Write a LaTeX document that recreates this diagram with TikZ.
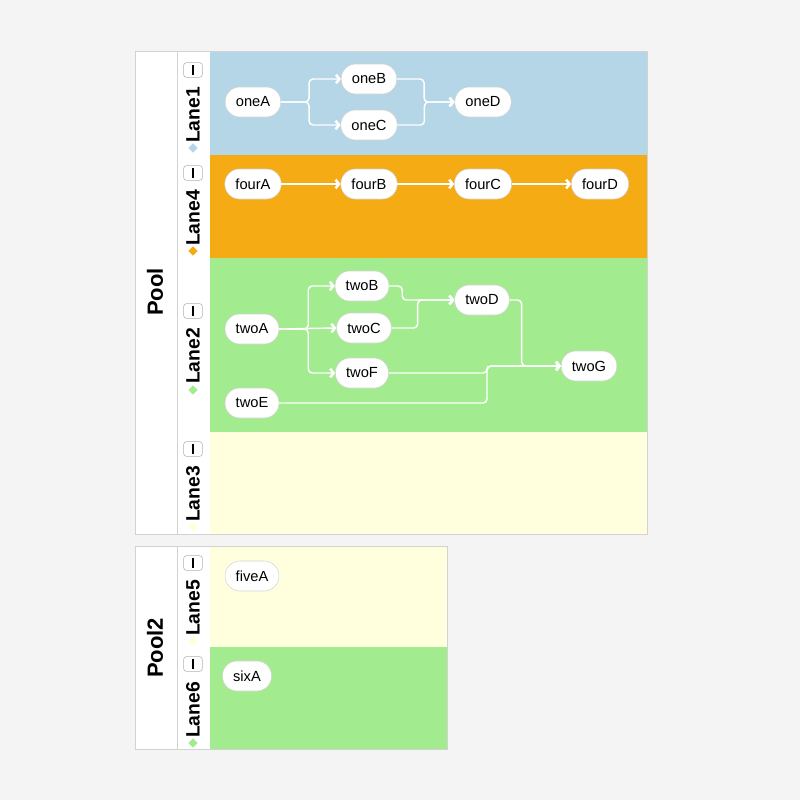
\documentclass[tikz,border=0pt]{standalone}
\usepackage{fontspec}
\setmainfont{Liberation Sans}
\usetikzlibrary{arrows.meta,positioning,shapes.geometric}
\definecolor{bg}{HTML}{F4F4F4}
\definecolor{rule}{HTML}{D2D2D2}
\definecolor{laneblue}{HTML}{B4D6E6}
\definecolor{laneorange}{HTML}{F5AB13}
\definecolor{lanegreen}{HTML}{A3EB8F}
\definecolor{laneyellow}{HTML}{FFFFDE}

\begin{document}
\begin{tikzpicture}[x=0.75pt,y=-0.75pt,
    task/.style={draw=rule,fill=white,rounded corners=11pt,minimum height=22.5pt,
                 inner xsep=8pt,font=\fontsize{11}{13}\selectfont},
    flow/.style={draw=white,line width=1.1pt,rounded corners=3pt,
                 -{Straight Barb[length=2.5pt,width=6.5pt,line width=1.9pt]}},
    toggle/.style={draw=gray!60,fill=white,rounded corners=2pt,
                   minimum width=14pt,minimum height=11pt,inner sep=0pt},
    lanelabel/.style={rotate=90,font=\fontsize{14.5}{16}\selectfont\bfseries},
    poollabel/.style={rotate=90,font=\fontsize{16.5}{18}\selectfont\bfseries},
    lanedot/.style={diamond,minimum size=7pt,inner sep=0pt}]
    \fill[bg] (0,0) rectangle (800,800);

    % first pool
    \fill[white] (135,51) rectangle (210,534);
    \fill[laneblue] (210,51) rectangle (647,155);
    \fill[laneorange] (210,155) rectangle (647,258);
    \fill[lanegreen] (210,258) rectangle (647,432);
    \fill[laneyellow] (210,432) rectangle (647,534);
    \draw[rule] (135,51) rectangle (647,534) (177,51) -- (177,534);
    \node[poollabel] (pool) at (155,292) {Pool};

    \node[toggle] (t1) at (193,70) {};
    \draw[line width=1.2pt] ([yshift=-3.5pt]t1.center) -- ([yshift=3.5pt]t1.center);
    \node[lanelabel] (l1) at (193,115) {Lane1};
    \node[lanedot,fill=laneblue] (d1) at (193,148) {};

    \node[toggle] (t4) at (193,173) {};
    \draw[line width=1.2pt] ([yshift=-3.5pt]t4.center) -- ([yshift=3.5pt]t4.center);
    \node[lanelabel] (l4) at (193,218) {Lane4};
    \node[lanedot,fill=laneorange] (d4) at (193,251) {};

    \node[toggle] (t2) at (193,311) {};
    \draw[line width=1.2pt] ([yshift=-3.5pt]t2.center) -- ([yshift=3.5pt]t2.center);
    \node[lanelabel] (l2) at (193,356) {Lane2};
    \node[lanedot,fill=lanegreen] (d2) at (193,390) {};

    \node[toggle] (t3) at (193,449) {};
    \draw[line width=1.2pt] ([yshift=-3.5pt]t3.center) -- ([yshift=3.5pt]t3.center);
    \node[lanelabel] (l3) at (193,494) {Lane3};
    \node[lanedot,fill=laneyellow] (d3) at (193,527) {};

    % lane 1
    \node[task] (oneA) at (253,102) {oneA};
    \node[task] (oneB) at (369,79) {oneB};
    \node[task] (oneC) at (369,125) {oneC};
    \node[task] (oneD) at (483,102) {oneD};
    \draw[flow] (oneA.east) -- ++(28,0) |- (oneB);
    \draw[flow] (oneA.east) -- ++(28,0) |- (oneC);
    \draw[flow] (oneB.east) -- ++(27,0) |- (oneD);
    \draw[flow] (oneC.east) -- ++(27,0) |- (oneD);

    % lane 4
    \node[task] (fourA) at (253,184) {fourA};
    \node[task] (fourB) at (369,184) {fourB};
    \node[task] (fourC) at (483,184) {fourC};
    \node[task] (fourD) at (600,184) {fourD};
    \draw[flow] (fourA)--(fourB);
    \draw[flow] (fourB)--(fourC);
    \draw[flow] (fourC)--(fourD);

    % lane 2
    \node[task] (twoA) at (252,329) {twoA};
    \node[task] (twoB) at (362,286) {twoB};
    \node[task] (twoC) at (364,328) {twoC};
    \node[task] (twoF) at (362,373) {twoF};
    \node[task] (twoD) at (482,300) {twoD};
    \node[task] (twoE) at (252,403) {twoE};
    \node[task] (twoG) at (589,366) {twoG};
    \coordinate (join) at (487,366);
    \draw[flow] (twoA.east) -- ++(29,0) |- (twoB);
    \draw[flow] (twoA.east) -- (twoC.west);
    \draw[flow] (twoA.east) -- ++(29,0) |- (twoF);
    \draw[flow] (twoB.east) -- ++(13,0) |- (twoD);
    \draw[flow] (twoC.east) -- ++(26,0) |- (twoD);
    \draw[flow] (twoD.east) -- ++(12,0) |- (twoG);
    \draw[flow] (twoF.east) -| (join) -- (twoG);
    \draw[flow] (twoE.east) -| (join) -- (twoG);

    % second pool
    \fill[white] (135,546) rectangle (210,749);
    \fill[laneyellow] (210,546) rectangle (447,647);
    \fill[lanegreen] (210,647) rectangle (447,749);
    \draw[rule] (135,546) rectangle (447,749) (177,546) -- (177,749);
    \node[poollabel] (pool2) at (155,648) {Pool2};

    \node[toggle] (t5) at (193,563) {};
    \draw[line width=1.2pt] ([yshift=-3.5pt]t5.center) -- ([yshift=3.5pt]t5.center);
    \node[lanelabel] (l5) at (193,608) {Lane5};
    \node[lanedot,fill=laneyellow] (d5) at (193,641) {};

    \node[toggle] (t6) at (193,664) {};
    \draw[line width=1.2pt] ([yshift=-3.5pt]t6.center) -- ([yshift=3.5pt]t6.center);
    \node[lanelabel] (l6) at (193,710) {Lane6};
    \node[lanedot,fill=lanegreen] (d6) at (193,743) {};

    \node[task] (fiveA) at (252,576) {fiveA};
    \node[task] (sixA) at (247,676) {sixA};
\end{tikzpicture}
\end{document}
